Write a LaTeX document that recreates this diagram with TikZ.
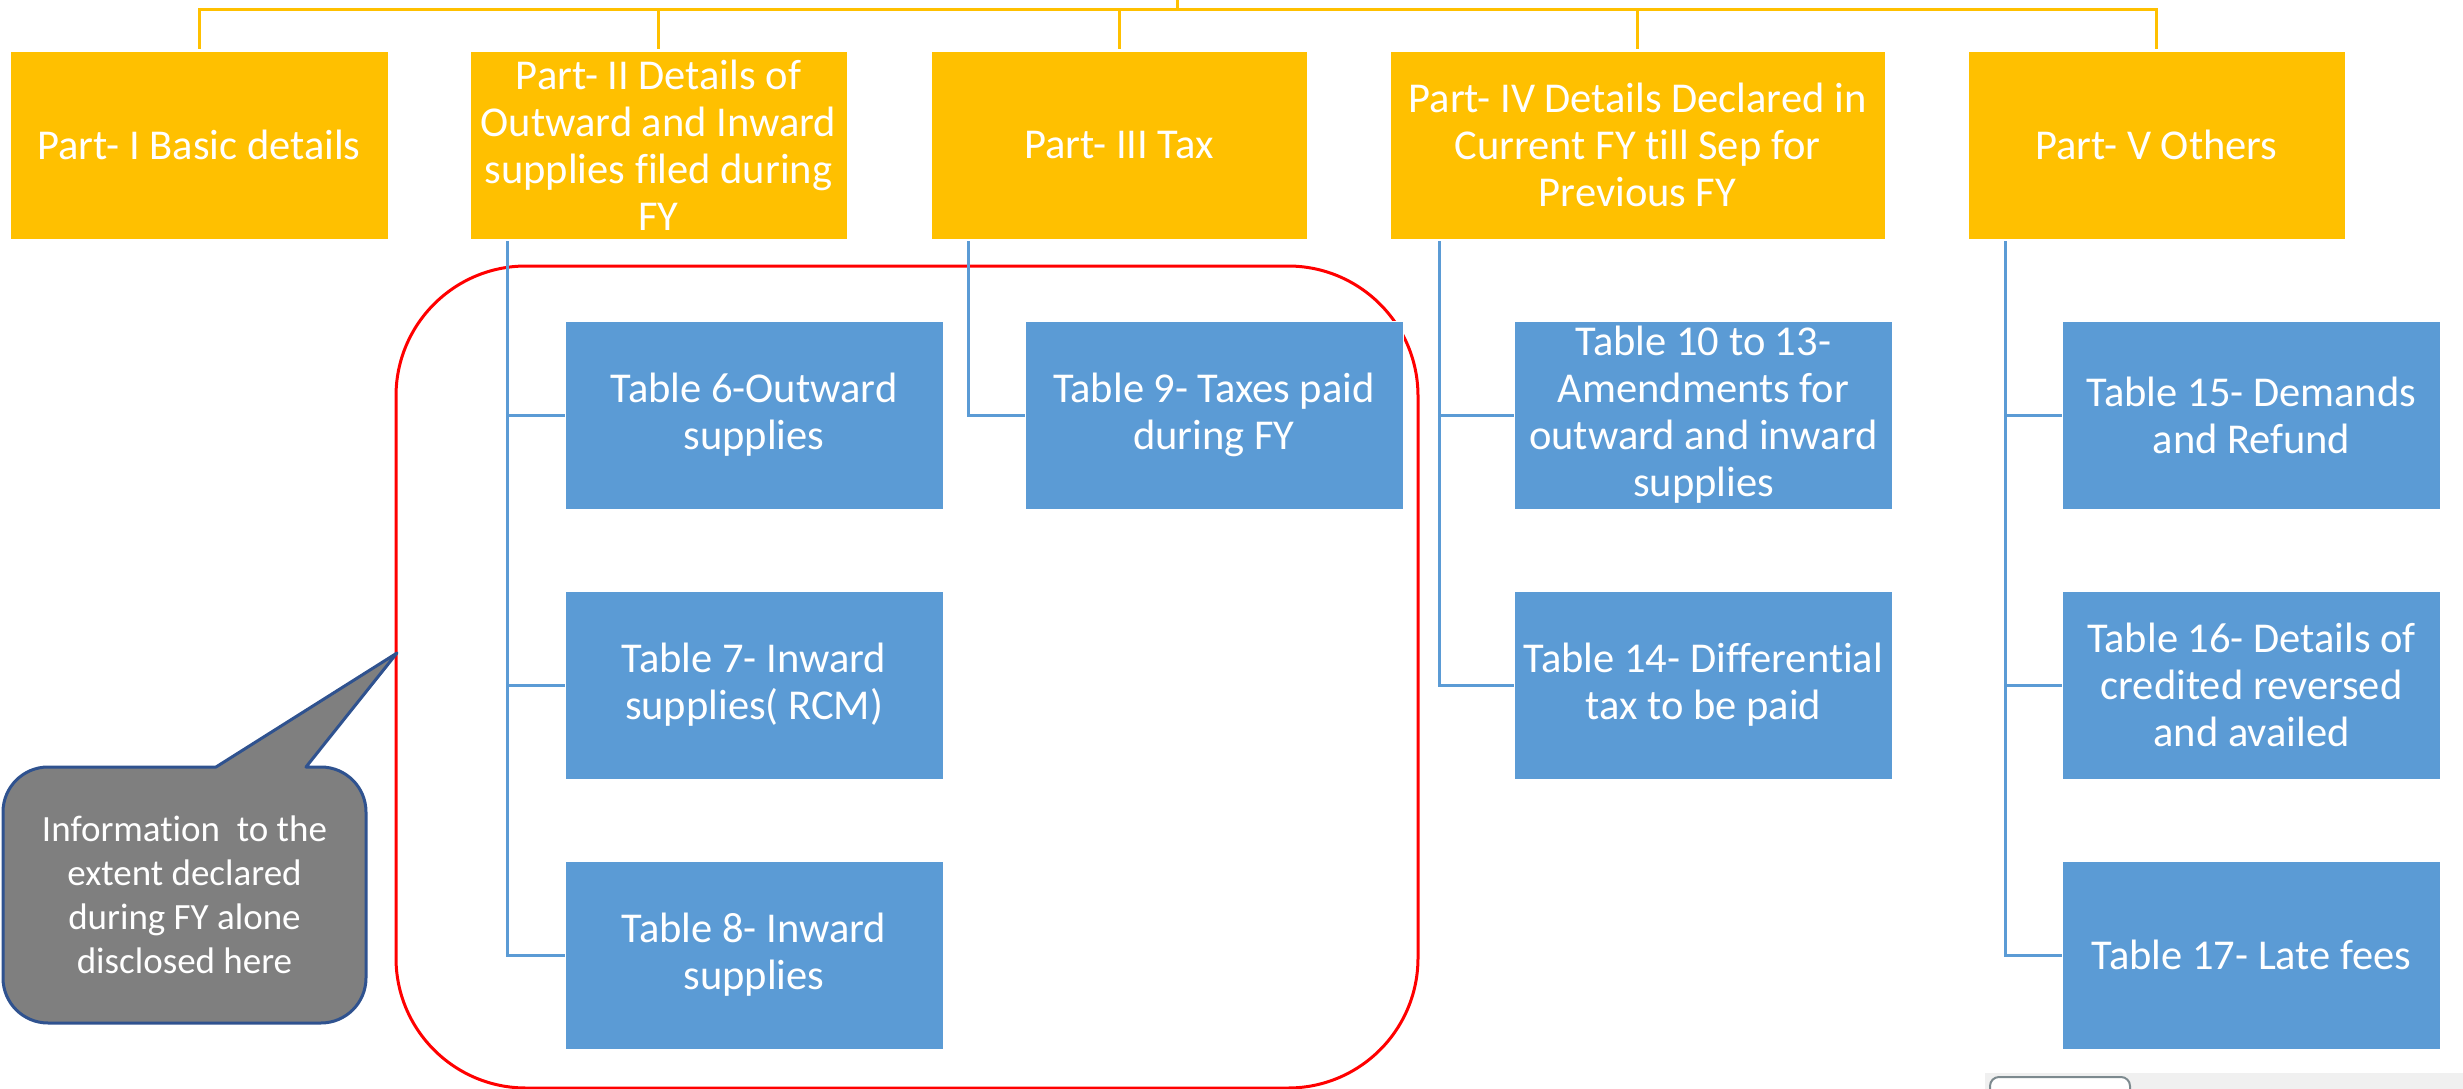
\documentclass[tikz,border=0pt]{standalone}
\usepackage{fontspec}
\setmainfont{Carlito}[Ligatures=NoCommon]
\usetikzlibrary{calc}
\definecolor{partyellow}{HTML}{FFC000}
\definecolor{tableblue}{HTML}{5B9BD5}
\definecolor{noteGrey}{HTML}{7F7F7F}
\definecolor{noteEdge}{HTML}{2F528F}
\definecolor{barGrey}{HTML}{F0F0F0}
\definecolor{btnEdge}{HTML}{7D8A8F}
\tikzset{
  partbox/.style={fill=partyellow, draw=white, line width=0.8, text=white, align=center,
    inner sep=0, minimum height=188,
    font=\fontsize{42.5}{47}\selectfont},
  tablebox/.style={fill=tableblue, draw=white, line width=0.8, text=white, align=center,
    inner sep=0, minimum width=378, minimum height=188,
    font=\fontsize{42.5}{47}\selectfont},
  busline/.style={draw=partyellow, line width=3},
  branch/.style={draw=tableblue, line width=3},
  highlight/.style={draw=red, line width=3, rounded corners=130},
  notebox/.style={fill=noteGrey, draw=noteEdge, line width=3, line join=round},
}
\begin{document}
\begin{tikzpicture}[x=1pt,y=-1pt]
\useasboundingbox (0,0) rectangle (2463,1089);

% top level parts
\node[partbox, minimum width=378] (p1) at (199,145) {Part- I Basic details};
\node[partbox, minimum width=377] (p2) at (658.5,145) {Part- II Details of\\Outward and Inward\\supplies filed during\\FY};
\node[partbox, minimum width=376] (p3) at (1119,145) {Part- III Tax};
\node[partbox, minimum width=495] (p4) at (1637.5,145) {Part- IV Details Declared in\\Current FY till Sep for\\Previous FY};
\node[partbox, minimum width=377] (p5) at (2156.5,145) {Part- V Others};

% bus from the root down to every part
\coordinate (root) at (1177,0);
\coordinate (bus) at (1177,10);
\draw[busline] (root) -- (bus);
\foreach \p in {p1,p2,p3,p4,p5}{
  \draw[busline] (bus) -| ($(\p.north)+(0,-2)$);
}

% highlighted group
\draw[highlight] (396,266) rectangle (1418,1088);

% tables under each part
\node[tablebox] (t6)  at (754,415)  {Table 6-Outward\\supplies};
\node[tablebox] (t7)  at (754,685)  {Table 7- Inward\\supplies( RCM)};
\node[tablebox] (t8)  at (754,955)  {Table 8- Inward\\supplies};
\node[tablebox] (t9)  at (1214,415) {Table 9- Taxes paid\\during FY};
\node[tablebox] (t10) at (1703.5,415) {Table 10 to 13-\\Amendments for\\outward and inward\\supplies};
\node[tablebox] (t14) at (1703.5,685) {Table 14- Differential\\tax to be paid};
\node[tablebox] (t15) at (2251.5,415) {Table 15- Demands\\and Refund};
\node[tablebox] (t16) at (2251.5,685) {Table 16- Details of\\credited reversed\\and availed};
\node[tablebox] (t17) at (2251.5,955) {Table 17- Late fees};

% branch connectors
\foreach \p/\c in {p2/t6,p2/t7,p2/t8,p3/t9,p4/t10,p4/t14,p5/t15,p5/t16,p5/t17}{
  \draw[branch] ($(\p.south west)!0.1!(\p.south east)+(0,2)$) |- (\c.west);
}

% callout note pointing at the group
\coordinate (tip) at (397,653);
\draw[notebox] (tip) -- (306,767) [rounded corners=45] -- (366,767) -- (366,1023) -- (3,1023)
  -- (3,767) [sharp corners] -- (216,767) -- cycle;
\node[text=white, align=center, inner sep=0, font=\fontsize{37}{44}\selectfont] (note) at (184.5,895)
  {Information\ \ to the\\extent declared\\during FY alone\\disclosed here};

% window bar at the lower right edge
\fill[barGrey] (1985,1073) rectangle (2463,1089);
\draw[btnEdge, fill=white, line width=2, rounded corners=9] (1990,1077) rectangle (2130,1100);
\end{tikzpicture}
\end{document}
